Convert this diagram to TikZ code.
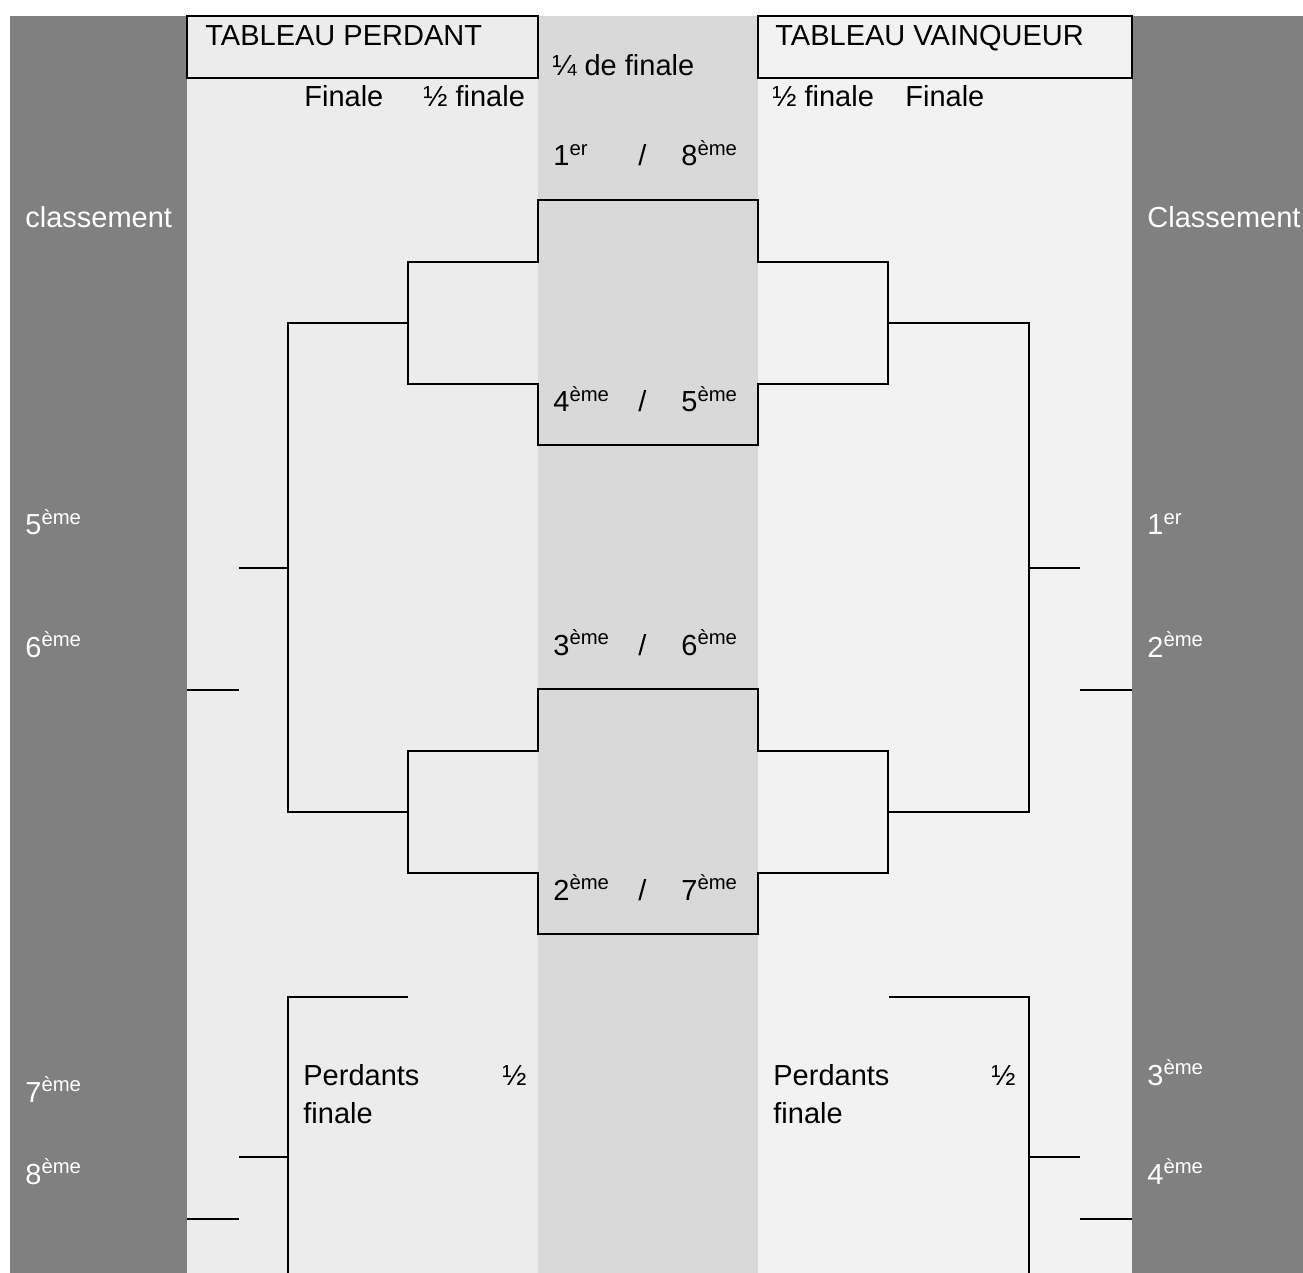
\documentclass[tikz,border=0pt]{standalone}
\usepackage{fontspec}
\setmainfont{Liberation Sans}
\usepackage{tikz}
\usepackage{xcolor}
\definecolor{sidegray}{RGB}{128,128,128}
\definecolor{losefill}{RGB}{236,236,236}
\definecolor{midfill}{RGB}{217,217,217}
\definecolor{winfill}{RGB}{242,242,242}
\tikzset{
    title-box/.style = {draw=black, line width=1pt},
    bracket/.style = {draw=black, line width=1pt},
    txt/.style = {anchor=base west, inner sep=0pt, font=\fontsize{14.5}{17.4}\selectfont},
    side-txt/.style = {txt, text=white},
}

\begin{document}
\begin{tikzpicture}[x=0.5pt,y=-0.5pt]
\useasboundingbox (0,0) rectangle (1303,1273);
\fill[white] (0,0) rectangle (1303,1273);
\fill[sidegray] (10,16) rectangle (187,1273);
\fill[losefill] (187,16) rectangle (538,1273);
\fill[midfill] (538,16) rectangle (758,1273);
\fill[winfill] (758,16) rectangle (1132,1273);
\fill[sidegray] (1132,16) rectangle (1303,1273);

\filldraw[title-box, fill=losefill] (187,16) rectangle (538,78);
\filldraw[title-box, fill=winfill] (758,16) rectangle (1132,78);
\node[txt] (lose-title) at (205,46) {TABLEAU PERDANT};
\node[txt] (win-title) at (775,46) {TABLEAU VAINQUEUR};
\node[txt] (quarter-head) at (552,76) {¼ de finale};
\node[txt] (lose-final-head) at (304,107) {Finale};
\node[txt] (lose-semi-head) at (423,107) {½ finale};
\node[txt] (win-semi-head) at (772,107) {½ finale};
\node[txt] (win-final-head) at (905,107) {Finale};

\node[txt] (q1-a) at (553,166) {1\textsuperscript{er}};
\node[txt] (q1-s) at (638,166) {/};
\node[txt] (q1-b) at (681,166) {8\textsuperscript{ème}};
\node[txt] (q2-a) at (553,412) {4\textsuperscript{ème}};
\node[txt] (q2-s) at (638,412) {/};
\node[txt] (q2-b) at (681,412) {5\textsuperscript{ème}};
\node[txt] (q3-a) at (553,655) {3\textsuperscript{ème}};
\node[txt] (q3-s) at (638,655) {/};
\node[txt] (q3-b) at (681,655) {6\textsuperscript{ème}};
\node[txt] (q4-a) at (553,900) {2\textsuperscript{ème}};
\node[txt] (q4-s) at (638,900) {/};
\node[txt] (q4-b) at (681,900) {7\textsuperscript{ème}};

\draw[bracket] (408,262) -- (538,262) -- (538,200) -- (758,200) -- (758,262) -- (888,262)
    -- (888,384) -- (758,384) -- (758,445) -- (538,445) -- (538,384) -- (408,384) -- cycle;
\draw[bracket] (408,751) -- (538,751) -- (538,689) -- (758,689) -- (758,751) -- (888,751)
    -- (888,873) -- (758,873) -- (758,934) -- (538,934) -- (538,873) -- (408,873) -- cycle;
\draw[bracket] (408,323) -- (288,323) -- (288,812) -- (408,812);
\draw[bracket] (888,323) -- (1029,323) -- (1029,812) -- (888,812);
\draw[bracket] (239,568) -- (288,568);
\draw[bracket] (187,690) -- (239,690);
\draw[bracket] (1029,568) -- (1080,568);
\draw[bracket] (1080,690) -- (1132,690);
\draw[bracket] (408,997) -- (288,997) -- (288,1273);
\draw[bracket] (239,1157) -- (288,1157);
\draw[bracket] (187,1219) -- (239,1219);
\draw[bracket] (889,997) -- (1029,997) -- (1029,1273);
\draw[bracket] (1029,1157) -- (1080,1157);
\draw[bracket] (1080,1219) -- (1132,1219);

\node[txt] (lose-third-a) at (303,1085) {Perdants};
\node[txt] (lose-third-b) at (502,1085) {½};
\node[txt] (lose-third-c) at (303,1123) {finale};
\node[txt] (win-third-a) at (773,1085) {Perdants};
\node[txt] (win-third-b) at (991,1085) {½};
\node[txt] (win-third-c) at (773,1123) {finale};

\node[side-txt] (lose-rank) at (25,228) {classement};
\node[side-txt] (win-rank) at (1147,228) {Classement};
\node[side-txt] (rank-5) at (25,535) {5\textsuperscript{ème}};
\node[side-txt] (rank-6) at (25,657) {6\textsuperscript{ème}};
\node[side-txt] (rank-7) at (25,1102) {7\textsuperscript{ème}};
\node[side-txt] (rank-8) at (25,1184) {8\textsuperscript{ème}};
\node[side-txt] (rank-1) at (1147,535) {1\textsuperscript{er}};
\node[side-txt] (rank-2) at (1147,657) {2\textsuperscript{ème}};
\node[side-txt] (rank-3) at (1147,1085) {3\textsuperscript{ème}};
\node[side-txt] (rank-4) at (1147,1184) {4\textsuperscript{ème}};
\end{tikzpicture}
\end{document}
